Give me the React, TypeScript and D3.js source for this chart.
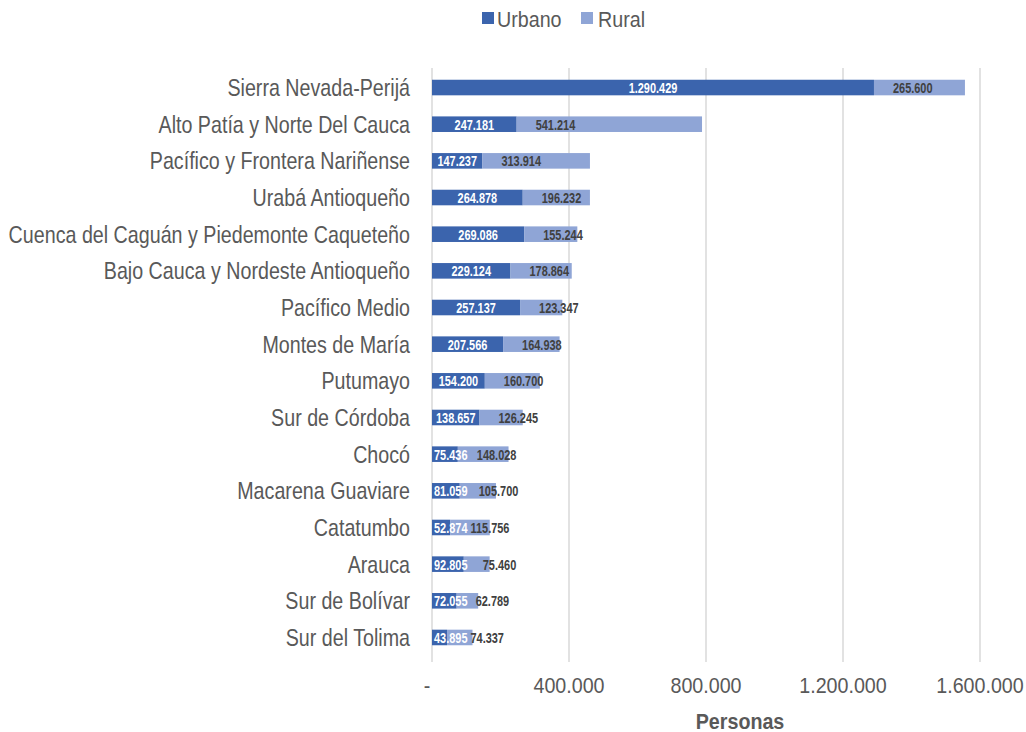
import React from "react";
import * as d3 from "d3";

const categories = [
  "Sierra Nevada-Perijá",
  "Alto Patía y Norte Del Cauca",
  "Pacífico y Frontera Nariñense",
  "Urabá Antioqueño",
  "Cuenca del Caguán y Piedemonte Caqueteño",
  "Bajo Cauca y Nordeste Antioqueño",
  "Pacífico Medio",
  "Montes de María",
  "Putumayo",
  "Sur de Córdoba",
  "Chocó",
  "Macarena Guaviare",
  "Catatumbo",
  "Arauca",
  "Sur de Bolívar",
  "Sur del Tolima",
];
const urbano = [1290429, 247181, 147237, 264878, 269086, 229124, 257137, 207566, 154200, 138657, 75436, 81059, 52874, 92805, 72055, 43895];
const rural = [265600, 541214, 313914, 196232, 155244, 178864, 123347, 164938, 160700, 126245, 148028, 105700, 115756, 75460, 62789, 74337];
const xTicks = [0, 400000, 800000, 1200000, 1600000];
const xTickLabels = ["-", "400.000", "800.000", "1.200.000", "1.600.000"];

const fmt = (v: number) => v.toString().replace(/\B(?=(\d{3})+(?!\d))/g, ".");

const FONT = "'Liberation Sans', Arial, sans-serif";
const URB = "#3B64AD";
const RUR = "#8FA5D6";
const SX = 0.82;
const AX = 22;
const AXSX = 0.895;
const LBL = 15;
const LSX = 0.73;

const labelWidth = (s: string) =>
  s.split("").reduce((a, ch) => a + (ch === "." ? 0.278 : 0.556), 0) * LBL * LSX;

function T(props: {
  x: number; y: number; size: number; anchor?: string; weight?: string; fill: string; sx?: number; children: React.ReactNode;
}) {
  const { x, y, size, anchor = "start", weight = "normal", fill, sx = SX, children } = props;
  return (
    <text
      transform={`translate(${x},${y}) scale(${sx},1)`}
      fontSize={size}
      fontWeight={weight}
      fill={fill}
      textAnchor={anchor as any}
    >
      {children}
    </text>
  );
}

export default function App() {
  const W = 1026, H = 732;
  const x0 = 432, x1 = 980, yTop = 69.2, yBot = 655.8;
  const x = d3.scaleLinear().domain([0, 1600000]).range([x0, x1]);
  const y = d3.scaleBand<string>().domain(categories).range([yTop, yBot]).paddingInner(0.575).paddingOuter(0.2875);
  const bh = y.bandwidth();
  return (
    <svg width={W} height={H} style={{ position: "absolute", left: 0, top: 0 }} fontFamily={FONT}>
      <rect width={W} height={H} fill="#fff" />
      {/* legend */}
      <rect x={482} y={12} width={12} height={12} fill={URB} />
      <T x={497} y={27} size={AX} sx={AXSX} fill="#595959">Urbano</T>
      <rect x={581} y={12} width={12} height={12} fill={RUR} />
      <T x={598} y={27} size={AX} sx={AXSX} fill="#595959">Rural</T>
      {/* gridlines */}
      {xTicks.map((t) => (
        <line key={t} x1={x(t)} x2={x(t)} y1={68} y2={662} stroke="#d9d9d9" strokeWidth={1.5} />
      ))}
      {xTicks.map((t, i) => (
        <T key={"l" + t} x={t === 0 ? x(t) - 5 : x(t)} y={693} size={AX} sx={AXSX} fill="#595959" anchor="middle">
          {xTickLabels[i]}
        </T>
      ))}
      <T x={740} y={729} size={AX} sx={AXSX} weight="bold" fill="#595959" anchor="middle">Personas</T>
      {categories.map((c, i) => {
        const yy = y(c)!;
        const u = urbano[i], r = rural[i];
        const cy = yy + bh / 2;
        const us = fmt(u), rs = fmt(r);
        const uw = labelWidth(us);
        const ucx = Math.max((x(0) + x(u)) / 2, x0 + uw / 2 + 2);
        const uRight = ucx + uw / 2;
        const rLeft = Math.max(x(u) + 19, uRight + 3);
        return (
          <g key={c}>
            <T x={410} y={cy + 8.5} size={24} fill="#595959" anchor="end">{c}</T>
            <rect x={x(0)} y={yy} width={x(u) - x(0)} height={bh} fill={URB} />
            <rect x={x(u)} y={yy} width={x(u + r) - x(u)} height={bh} fill={RUR} />
            <T x={ucx} y={cy + 5.5} size={LBL} sx={LSX} weight="bold" fill="#fff" anchor="middle">{us}</T>
            <T x={rLeft} y={cy + 5.5} size={LBL} sx={LSX} weight="bold" fill="#404040">{rs}</T>
          </g>
        );
      })}
    </svg>
  );
}
